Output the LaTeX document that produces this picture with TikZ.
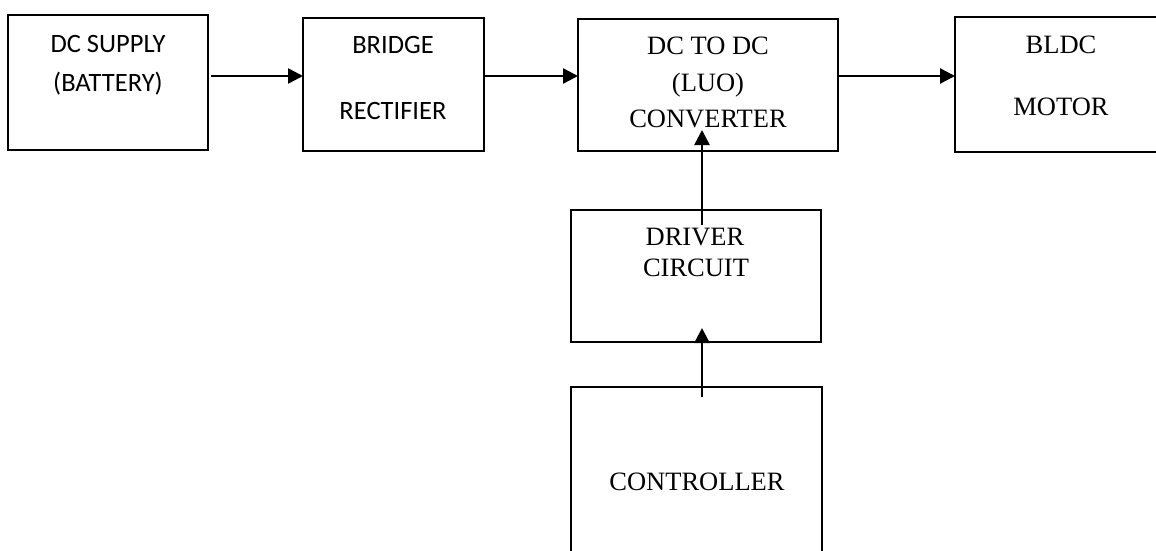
\documentclass[tikz,border=0pt]{standalone}
\usepackage{fontspec}
\newfontfamily\calib{Carlito}
\newfontfamily\tnr{Liberation Serif}
\usetikzlibrary{arrows.meta}
\begin{document}
\begin{tikzpicture}[x=1pt,y=-1pt,
  blk/.style={draw,line width=2pt,inner sep=0pt,outer sep=0pt},
  sans/.style={anchor=base,inner sep=0pt,font=\calib\fontsize{26.5}{31}\selectfont},
  serif/.style={anchor=base,inner sep=0pt,font=\tnr\fontsize{26.5}{31}\selectfont},
  arr/.style={line width=2.5pt,-{Triangle[length=15pt,width=15pt]}}]
\path[use as bounding box] (0,0) rectangle (1156,551);
\begin{scope}
\clip (0,0) rectangle (1156,551);
\node[blk,minimum width=200pt,minimum height=135pt] (supply) at (108,82.5) {};
\node[blk,minimum width=181pt,minimum height=133pt] (bridge) at (393.5,84.5) {};
\node[blk,minimum width=260pt,minimum height=132pt] (dcdc) at (708,85) {};
\node[blk,minimum width=220pt,minimum height=135pt] (bldc) at (1065,84.5) {};
\node[blk,minimum width=250pt,minimum height=132pt] (driver) at (696,276) {};
\node[blk,minimum width=251pt,minimum height=178pt] (ctrl) at (696.5,476) {};
\end{scope}

\node[sans] (t1) at (108,52.7) {DC SUPPLY};
\node[sans] (t2) at (108,91.7) {(BATTERY)};
\node[sans] (t3) at (393,54) {BRIDGE};
\node[sans] (t4) at (393,119) {RECTIFIER};
\node[serif] (t5) at (708,55) {DC TO DC};
\node[serif] (t6) at (708,92) {(LUO)};
\node[serif] (t7) at (708,127) {CONVERTER};
\node[serif] (t8) at (1061,54) {BLDC};
\node[serif] (t9) at (1061,115.7) {MOTOR};
\node[serif] (t10) at (695,245.7) {DRIVER};
\node[serif] (t11) at (696,276.7) {CIRCUIT};
\node[serif] (t12) at (697,490.7) {CONTROLLER};

\coordinate (hy) at (0,76);
\coordinate (e1) at (702,225);
\coordinate (e2) at (702,130);
\coordinate (e3) at (702,397);
\coordinate (e4) at (702,328);

\draw[arr] ([xshift=3pt]supply.east |- hy) -- (bridge.west |- hy);
\draw[arr] (bridge.east |- hy) -- (dcdc.west |- hy);
\draw[arr] (dcdc.east |- hy) -- (bldc.west |- hy);
\draw[arr] (e1) -- (e2);
\draw[arr] (e3) -- (e4);
\end{tikzpicture}
\end{document}
